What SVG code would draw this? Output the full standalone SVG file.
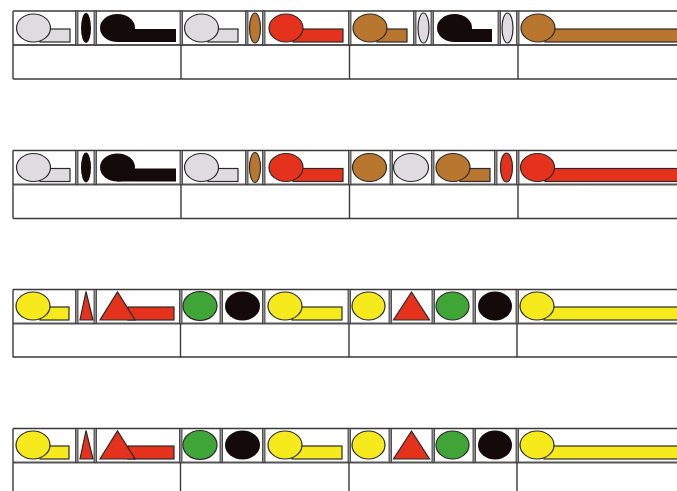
<svg xmlns="http://www.w3.org/2000/svg" width="677" height="491" viewBox="0 0 677 491">
<style>
.frame{fill:none;stroke:#3a3a3a;stroke-width:1.4}
.mid{stroke:#555;stroke-width:2;fill:none}
.sep{fill:#8c8c8c;stroke:#333;stroke-width:0.8}
.o{stroke:#2a2a2a;stroke-width:1.2}
.grey{fill:#dedcde}
.blk{fill:#140a0a}
.brn{fill:#b8762f}
.red{fill:#e4321c}
.yel{fill:#f6ea1c}
.grn{fill:#3ea536}
</style>
<defs>
<g id="frameTop">
<rect x="0" y="0" width="677" height="491" fill="none"/>
<line class="frame" x1="13" y1="0" x2="677" y2="0"/>
<line class="mid" x1="13" y1="34" x2="677" y2="34"/>
<line class="frame" x1="13" y1="0" x2="13" y2="68"/>
</g>
</defs>
<rect width="677" height="491" fill="#ffffff"/>

<!-- Row 1 -->
<g id="row1" transform="translate(0,11)">
<use href="#frameTop"/>
<line class="frame" x1="13" y1="68" x2="677" y2="68"/>
<line class="frame" x1="181" y1="0" x2="181" y2="68"/>
<line class="frame" x1="349.5" y1="0" x2="349.5" y2="68"/>
<line class="frame" x1="518" y1="0" x2="518" y2="68"/>
<rect class="sep" x="180" y="0" width="2.5" height="34"/>
<rect class="sep" x="348.5" y="0" width="2.5" height="34"/>
<rect class="sep" x="516.5" y="0" width="2.5" height="34"/>
<g id="r1c1">
<rect class="sep" x="75.5" y="0" width="2.5" height="34"/>
<rect class="sep" x="94" y="0" width="2.5" height="34"/>
<rect class="grey o" x="40" y="18" width="30" height="13"/>
<ellipse class="grey o" cx="33.5" cy="17" rx="17" ry="14"/>
<ellipse class="blk" cx="86" cy="17" rx="5" ry="15"/>
<rect class="blk" x="117" y="18" width="59" height="13"/>
<ellipse class="blk" cx="117.5" cy="17" rx="17.5" ry="14"/>
</g>
<g id="r1c2">
<rect class="sep" x="245.5" y="0" width="2.5" height="34"/>
<rect class="sep" x="262.5" y="0" width="2.5" height="34"/>
<rect class="grey o" x="208" y="18" width="30" height="13"/>
<ellipse class="grey o" cx="201.5" cy="17" rx="17" ry="14"/>
<ellipse class="brn o" cx="255" cy="17" rx="5.5" ry="15"/>
<rect class="red o" x="293" y="18" width="50" height="13"/>
<ellipse class="red o" cx="286" cy="17" rx="17" ry="14"/>
</g>
<g id="r1c3">
<rect class="sep" x="413.5" y="0" width="2.5" height="34"/>
<rect class="sep" x="431" y="0" width="2.5" height="34"/>
<rect class="sep" x="498" y="0" width="2.5" height="34"/>
<rect class="brn o" x="377" y="18" width="30" height="13"/>
<ellipse class="brn o" cx="370" cy="17" rx="17" ry="14"/>
<ellipse class="grey o" cx="423.5" cy="17" rx="5.5" ry="15"/>
<rect class="blk" x="454" y="18" width="38" height="13"/>
<ellipse class="blk" cx="454.5" cy="17" rx="17.5" ry="14"/>
<ellipse class="grey o" cx="507.5" cy="17" rx="5.5" ry="15"/>
</g>
<g id="r1c4">
<rect class="brn o" x="545" y="18" width="140" height="13"/>
<ellipse class="brn o" cx="538" cy="17" rx="17" ry="14"/>
</g>
</g>

<!-- Row 2 -->
<g id="row2" transform="translate(0,150.5)">
<use href="#frameTop"/>
<line class="frame" x1="13" y1="68" x2="677" y2="68"/>
<line class="frame" x1="181" y1="0" x2="181" y2="68"/>
<line class="frame" x1="349.5" y1="0" x2="349.5" y2="68"/>
<line class="frame" x1="518" y1="0" x2="518" y2="68"/>
<rect class="sep" x="180" y="0" width="2.5" height="34"/>
<rect class="sep" x="348.5" y="0" width="2.5" height="34"/>
<rect class="sep" x="516.5" y="0" width="2.5" height="34"/>
<g id="r2c1">
<rect class="sep" x="75.5" y="0" width="2.5" height="34"/>
<rect class="sep" x="94" y="0" width="2.5" height="34"/>
<rect class="grey o" x="40" y="18" width="30" height="13"/>
<ellipse class="grey o" cx="33.5" cy="17" rx="17" ry="14"/>
<ellipse class="blk" cx="86" cy="17" rx="5" ry="15"/>
<rect class="blk" x="117" y="18" width="59" height="13"/>
<ellipse class="blk" cx="117.5" cy="17" rx="17.5" ry="14"/>
</g>
<g id="r2c2">
<rect class="sep" x="245.5" y="0" width="2.5" height="34"/>
<rect class="sep" x="262.5" y="0" width="2.5" height="34"/>
<rect class="grey o" x="208" y="18" width="30" height="13"/>
<ellipse class="grey o" cx="201.5" cy="17" rx="17" ry="14"/>
<ellipse class="brn o" cx="255" cy="17" rx="5.5" ry="15"/>
<rect class="red o" x="293" y="18" width="50" height="13"/>
<ellipse class="red o" cx="286" cy="17" rx="17" ry="14"/>
</g>
<g id="r2c3">
<rect class="sep" x="390" y="0" width="2.5" height="34"/>
<rect class="sep" x="431.5" y="0" width="2.5" height="34"/>
<rect class="sep" x="494.5" y="0" width="2.5" height="34"/>
<ellipse class="brn o" cx="369.5" cy="17" rx="17" ry="14"/>
<ellipse class="grey o" cx="411" cy="17" rx="17.5" ry="14"/>
<rect class="brn o" x="460" y="18" width="30" height="13"/>
<ellipse class="brn o" cx="453" cy="17" rx="17" ry="14"/>
<ellipse class="red o" cx="506.5" cy="17" rx="6" ry="14.5"/>
</g>
<g id="r2c4">
<rect class="red o" x="545" y="18" width="140" height="13"/>
<ellipse class="red o" cx="537.5" cy="17" rx="17" ry="14"/>
</g>
</g>

<!-- Row 3 -->
<g id="row3" transform="translate(0,289.5)">
<use href="#frameTop"/>
<line class="frame" x1="13" y1="67.5" x2="677" y2="67.5"/>
<line class="frame" x1="180.5" y1="0" x2="180.5" y2="68"/>
<line class="frame" x1="349" y1="0" x2="349" y2="68"/>
<line class="frame" x1="517" y1="0" x2="517" y2="68"/>
<rect class="sep" x="179.5" y="0" width="2.5" height="34"/>
<rect class="sep" x="348" y="0" width="2.5" height="34"/>
<rect class="sep" x="516" y="0" width="2.5" height="34"/>
<g id="r3c1">
<rect class="sep" x="75.5" y="0" width="2.5" height="34"/>
<rect class="sep" x="94" y="0" width="2.5" height="34"/>
<rect class="yel o" x="40" y="17.5" width="29" height="13"/>
<ellipse class="yel o" cx="33" cy="16.5" rx="17" ry="14"/>
<polygon class="red o" points="80,30.5 93,30.5 86,2"/>
<rect class="red o" x="128" y="17.5" width="46" height="13"/>
<polygon class="red o" points="100,30.5 135,30.5 117.5,2.5"/>
</g>
<g id="r3c2">
<rect class="sep" x="220" y="0" width="2.5" height="34"/>
<rect class="sep" x="262.5" y="0" width="2.5" height="34"/>
<ellipse class="grn o" cx="200" cy="16.5" rx="17" ry="14.5"/>
<ellipse class="blk" cx="242.5" cy="16.5" rx="17.5" ry="14.5"/>
<rect class="yel o" x="292" y="17.5" width="50" height="13"/>
<ellipse class="yel o" cx="285" cy="16.5" rx="17" ry="14"/>
</g>
<g id="r3c3">
<rect class="sep" x="389" y="0" width="2.5" height="34"/>
<rect class="sep" x="432" y="0" width="2.5" height="34"/>
<rect class="sep" x="473" y="0" width="2.5" height="34"/>
<ellipse class="yel o" cx="368.5" cy="16.5" rx="16.5" ry="14"/>
<polygon class="red o" points="393.5,30.5 429.5,30.5 411.5,2.5"/>
<ellipse class="grn o" cx="452.5" cy="16.5" rx="16.5" ry="14"/>
<ellipse class="blk" cx="495" cy="16.5" rx="17" ry="14.5"/>
</g>
<g id="r3c4">
<rect class="yel o" x="544" y="17.5" width="140" height="13"/>
<ellipse class="yel o" cx="537" cy="16.5" rx="17" ry="14"/>
</g>
</g>

<!-- Row 4 -->
<g id="row4" transform="translate(0,428.5)">
<use href="#frameTop"/>
<line class="frame" x1="180.5" y1="0" x2="180.5" y2="68"/>
<line class="frame" x1="349" y1="0" x2="349" y2="68"/>
<line class="frame" x1="517" y1="0" x2="517" y2="68"/>
<rect class="sep" x="179.5" y="0" width="2.5" height="34"/>
<rect class="sep" x="348" y="0" width="2.5" height="34"/>
<rect class="sep" x="516" y="0" width="2.5" height="34"/>
<g id="r4c1">
<rect class="sep" x="75.5" y="0" width="2.5" height="34"/>
<rect class="sep" x="94" y="0" width="2.5" height="34"/>
<rect class="yel o" x="40" y="17.5" width="29" height="13"/>
<ellipse class="yel o" cx="33" cy="16.5" rx="17" ry="14"/>
<polygon class="red o" points="80,30.5 93,30.5 86,2"/>
<rect class="red o" x="128" y="17.5" width="46" height="13"/>
<polygon class="red o" points="100,30.5 135,30.5 117.5,2.5"/>
</g>
<g id="r4c2">
<rect class="sep" x="220" y="0" width="2.5" height="34"/>
<rect class="sep" x="262.5" y="0" width="2.5" height="34"/>
<ellipse class="grn o" cx="200" cy="16.5" rx="17" ry="14.5"/>
<ellipse class="blk" cx="242.5" cy="16.5" rx="17.5" ry="14.5"/>
<rect class="yel o" x="292" y="17.5" width="50" height="13"/>
<ellipse class="yel o" cx="285" cy="16.5" rx="17" ry="14"/>
</g>
<g id="r4c3">
<rect class="sep" x="389" y="0" width="2.5" height="34"/>
<rect class="sep" x="432" y="0" width="2.5" height="34"/>
<rect class="sep" x="473" y="0" width="2.5" height="34"/>
<ellipse class="yel o" cx="368.5" cy="16.5" rx="16.5" ry="14"/>
<polygon class="red o" points="393.5,30.5 429.5,30.5 411.5,2.5"/>
<ellipse class="grn o" cx="452.5" cy="16.5" rx="16.5" ry="14"/>
<ellipse class="blk" cx="495" cy="16.5" rx="17" ry="14.5"/>
</g>
<g id="r4c4">
<rect class="yel o" x="544" y="17.5" width="140" height="13"/>
<ellipse class="yel o" cx="537" cy="16.5" rx="17" ry="14"/>
</g>
</g>
</svg>
